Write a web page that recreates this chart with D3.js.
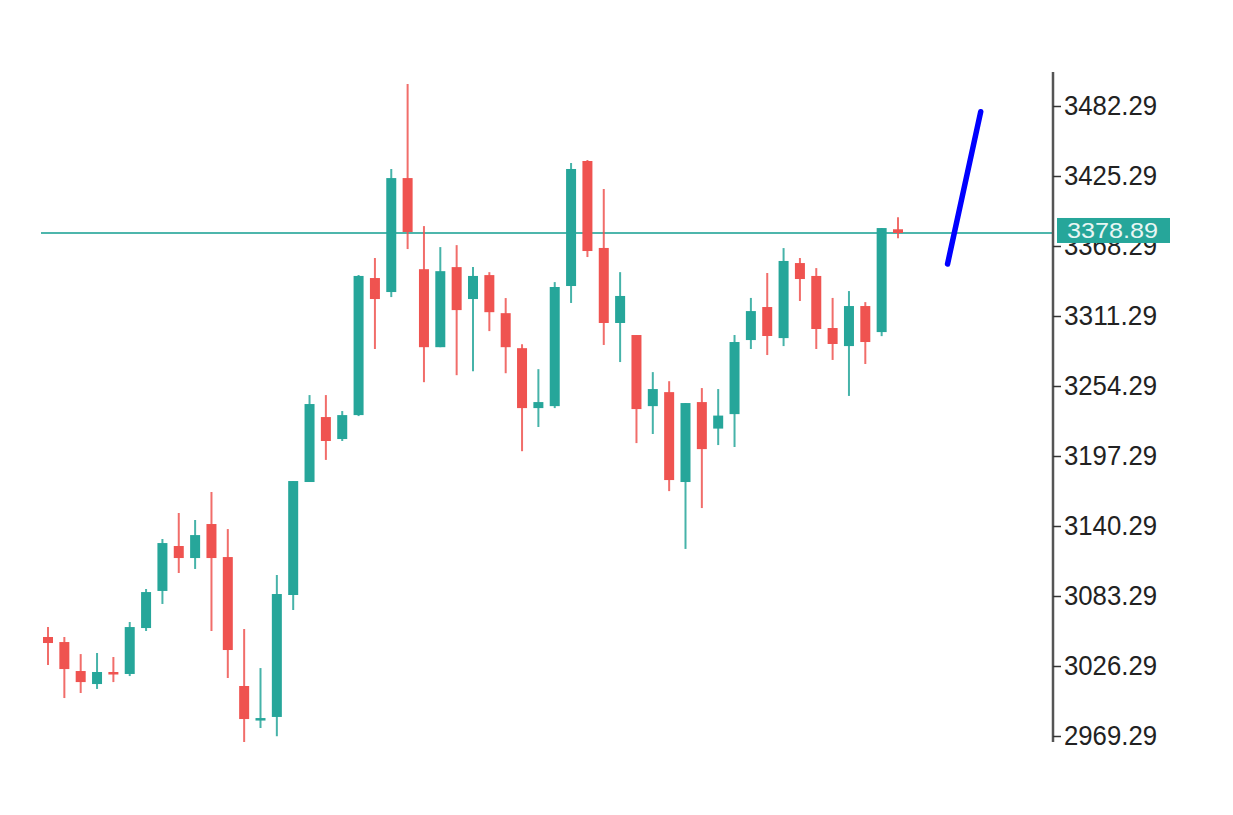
<!DOCTYPE html>
<html>
<head>
<meta charset="utf-8">
<script src="https://cdn.jsdelivr.net/npm/d3@7"></script>
<style>
  html, body { margin: 0; padding: 0; background: #ffffff; }
  svg { display: block; }
</style>
</head>
<body>
<svg id="chart" width="1233" height="815"></svg>
<script>
// ---- data ----
const opens  = [3049.9,3045.8,3022.2,3011.6,3021.4,3019.8,3057.2,3087.4,3124.0,3114.2,
                3141.9,3115.0,3010.0,2983.1,2984.8,3084.1,3176.1,3229.0,3211.1,3230.6,
                3342.2,3330.8,3423.6,3349.4,3285.9,3351.1,3325.1,3344.6,3313.6,3285.1,
                3236.3,3237.9,3335.7,3437.5,3366.7,3305.6,3295.8,3237.9,3249.3,3176.1,
                3241.2,3219.6,3231.4,3291.7,3318.6,3293.3,3354.4,3343.9,3301.5,3286.8,
                3319.4,3298.2,3381.9];
const highs  = [3058.0,3049.9,3036.0,3036.9,3033.6,3062.1,3089.0,3129.7,3150.9,3145.2,
                3168.0,3137.8,3056.4,3024.6,3100.4,3176.9,3246.9,3246.9,3233.9,3344.7,
                3358.5,3431.0,3500.2,3384.5,3367.4,3369.0,3351.1,3347.0,3325.9,3288.3,
                3268.0,3338.9,3435.9,3438.3,3414.7,3347.0,3295.8,3265.6,3258.2,3240.4,
                3252.6,3251.8,3295.8,3326.0,3346.3,3366.6,3358.5,3350.3,3326.0,3331.6,
                3322.6,3382.9,3391.7];
const lows   = [3027.1,3000.2,3004.3,3007.6,3013.2,3018.1,3054.8,3076.8,3102.0,3105.3,
                3054.8,3016.5,2964.4,2975.8,2969.1,3071.9,3176.1,3194.1,3209.5,3229.8,
                3284.4,3326.7,3365.8,3257.4,3285.9,3263.1,3266.4,3299.0,3264.7,3201.2,
                3220.9,3236.3,3321.9,3359.3,3287.7,3273.8,3207.8,3215.2,3168.7,3121.6,
                3154.9,3206.2,3204.6,3284.4,3279.5,3286.8,3323.5,3284.4,3275.5,3246.2,
                3272.2,3294.9,3374.6];
const closes = [3045.0,3023.8,3013.2,3021.4,3019.8,3058.0,3086.5,3126.4,3114.2,3132.9,
                3114.2,3039.3,2983.1,2983.9,3084.9,3176.9,3239.6,3209.5,3230.6,3343.9,
                3325.1,3423.6,3379.7,3285.9,3347.8,3316.1,3343.9,3314.4,3285.9,3236.3,
                3241.2,3334.9,3431.0,3364.2,3305.6,3327.6,3235.5,3251.8,3177.7,3240.4,
                3202.9,3230.2,3290.1,3315.3,3295.0,3356.1,3341.4,3300.7,3288.5,3319.4,
                3290.1,3382.9,3378.89];
const tickValues = [3482.29,3425.29,3368.29,3311.29,3254.29,3197.29,3140.29,3083.29,3026.29,2969.29];
const lastPrice = 3378.89;
const forecastIdx = [55.03, 57.06];
const forecastVal = [3353.6, 3477.6];

const candles = opens.map((o, i) => ({ i, o, h: highs[i], l: lows[i], c: closes[i] }));

// ---- layout ----
const svg = d3.select("#chart");
const plotLeft = 41, plotRight = 1053, plotTop = 72, plotBottom = 742;
const up = "#26a69a", down = "#ef5350";

const x = d3.scaleLinear().domain([0, candles.length - 1]).range([48, 898]);
const y = d3.scaleLinear().domain([2969.29, 3482.29]).range([736, 106]);

svg.append("defs").append("clipPath").attr("id", "plotClip")
  .append("rect").attr("x", plotLeft).attr("y", plotTop)
  .attr("width", plotRight - plotLeft).attr("height", plotBottom - plotTop);

const plot = svg.append("g").attr("clip-path", "url(#plotClip)");

// last price horizontal line
plot.append("line")
  .attr("x1", plotLeft).attr("x2", plotRight)
  .attr("y1", y(lastPrice)).attr("y2", y(lastPrice))
  .attr("stroke", "#4db6ac").attr("stroke-width", 2);

// wicks
plot.selectAll("line.wick").data(candles).enter().append("line")
  .attr("class", "wick")
  .attr("x1", d => x(d.i)).attr("x2", d => x(d.i))
  .attr("y1", d => y(d.h)).attr("y2", d => y(d.l))
  .attr("stroke", d => d.c >= d.o ? up : down)
  .attr("stroke-opacity", 0.85)
  .attr("stroke-width", 2);

// bodies
const bodyW = 10;
plot.selectAll("rect.body").data(candles).enter().append("rect")
  .attr("class", "body")
  .attr("x", d => x(d.i) - bodyW / 2)
  .attr("width", bodyW)
  .attr("y", d => y(Math.max(d.o, d.c)))
  .attr("height", d => Math.max(2.5, Math.abs(y(d.o) - y(d.c))))
  .attr("fill", d => d.c >= d.o ? up : down);

// forecast line (blue)
const fPts = forecastIdx.map((v, k) => [x(v), y(forecastVal[k])]);
plot.append("path")
  .attr("d", d3.line()(fPts))
  .attr("stroke", "#0000ff").attr("stroke-width", 5.5)
  .attr("stroke-linecap", "round").attr("fill", "none");

// ---- price axis ----
svg.append("line")
  .attr("x1", plotRight).attr("x2", plotRight)
  .attr("y1", plotTop).attr("y2", plotBottom)
  .attr("stroke", "#555").attr("stroke-width", 2.5);

const axis = d3.axisRight(y)
  .tickValues(tickValues)
  .tickFormat(d3.format(".2f"))
  .tickSize(8)
  .tickPadding(3);

const gAxis = svg.append("g")
  .attr("transform", `translate(${plotRight},0)`)
  .call(axis);
gAxis.select(".domain").remove();
gAxis.selectAll(".tick line").attr("stroke", "#333").attr("stroke-width", 1.5);
gAxis.selectAll(".tick text")
  .attr("fill", "#222")
  .style("font-family", "'Liberation Sans', Arial, sans-serif")
  .style("font-size", "27px")
  .attr("textLength", 93)
  .attr("lengthAdjust", "spacingAndGlyphs");

// last price label box
const boxY = y(lastPrice);
const pl = svg.append("g");
pl.append("rect")
  .attr("x", 1057).attr("y", boxY - 15)
  .attr("width", 113).attr("height", 25)
  .attr("fill", up);
pl.append("text")
  .attr("x", 1067).attr("y", boxY - 2.5)
  .attr("dy", "0.35em")
  .attr("fill", "#e8f6f4")
  .style("font-family", "'Liberation Sans', Arial, sans-serif")
  .style("font-size", "22px")
  .attr("textLength", 91)
  .attr("lengthAdjust", "spacingAndGlyphs")
  .text(d3.format(".2f")(lastPrice));
</script>
</body>
</html>
